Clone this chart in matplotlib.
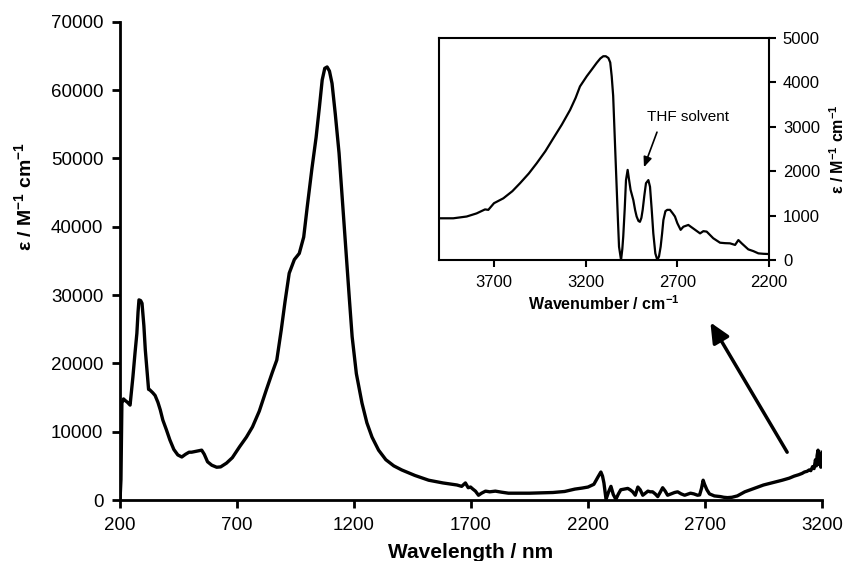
import matplotlib
matplotlib.use("Agg")
import matplotlib.pyplot as plt

plt.rcParams['font.family'] = ['Liberation Sans', 'DejaVu Sans']
plt.rcParams['mathtext.default'] = 'regular'

wl_uv = [200, 204, 208, 215, 221, 232, 243, 255, 264, 272,
         277, 281, 288, 294, 302, 308, 315, 322, 328, 340,
         350, 362, 372, 383, 398, 413, 430, 447, 464, 480,
         495, 506, 520, 535, 549, 560, 574, 592, 613, 630,
         655, 680]
eps_uv = [0, 3000, 14200, 14800, 14600, 14300, 13900, 18000, 21500, 24400,
          27500, 29300, 29200, 28800, 25500, 22000, 19000, 16200, 16100, 15700,
          15300, 14300, 13200, 11700, 10300, 8800, 7400, 6600, 6300, 6700,
          7000, 7000, 7100, 7200, 7300, 6700, 5600, 5100, 4800, 4850,
          5400, 6200]

wl_vis = [711, 740, 766, 795, 825, 851, 870, 889, 905, 923,
          945, 966, 985, 1000, 1020, 1038, 1052, 1064, 1075, 1085,
          1095, 1106, 1120, 1136, 1150, 1166, 1180, 1192, 1210, 1234,
          1255, 1277, 1305, 1336, 1370, 1404, 1460, 1519, 1580, 1640]
eps_vis = [7800, 9200, 10700, 13000, 16100, 18700, 20500, 24900, 29000, 33200,
           35200, 36100, 38500, 42900, 48500, 53100, 57500, 61500, 63200, 63400,
           62800, 61000, 56500, 50800, 44000, 36200, 29500, 23900, 18500, 14200,
           11300, 9200, 7300, 5900, 5000, 4400, 3600, 2900, 2500, 2200]

wl_nir = [1660, 1676, 1688, 1698, 1708, 1719, 1732, 1745, 1762, 1780,
          1804, 1830, 1860, 1900, 1950, 2000, 2050, 2100, 2144, 2175,
          2200, 2225, 2243, 2255, 2262, 2268, 2277, 2288, 2298, 2308,
          2319, 2330, 2340, 2355, 2370, 2380, 2391, 2402, 2413, 2423,
          2434, 2445, 2456, 2466, 2476, 2487, 2498, 2508, 2519, 2530,
          2540, 2555, 2570, 2583, 2598, 2613, 2625, 2638, 2652, 2668,
          2677, 2685, 2692, 2698, 2708, 2719, 2740, 2766, 2780, 2796,
          2815, 2838, 2870, 2910, 2950, 2995, 3030, 3060, 3081, 3100,
          3115, 3125, 3136, 3145, 3152, 3160, 3166, 3172, 3176, 3179,
          3183, 3187, 3191, 3195, 3200]
eps_nir = [2000, 2500, 1800, 1900, 1600, 1300, 700, 1000, 1300, 1200,
           1300, 1150, 1000, 1000, 1000, 1050, 1100, 1250, 1600, 1750,
           1900, 2300, 3400, 4100, 3500, 2500, 100, 1200, 2000, 800,
           100, 900, 1500, 1600, 1700, 1500, 1200, 700, 1900, 1500,
           700, 1000, 1300, 1200, 1200, 900, 500, 1100, 1800, 1300,
           700, 900, 1100, 1200, 900, 700, 850, 1000, 900, 700,
           750, 1700, 2900, 2300, 1500, 900, 600, 500, 400, 350,
           400, 600, 1200, 1700, 2200, 2600, 2900, 3200, 3500, 3700,
           3900, 4100, 4200, 4400, 4300, 4900, 4600, 5900, 5000, 6500,
           7300, 5200, 6800, 4800, 7000]

# inset: wavenumber (cm-1) vs epsilon
wn = [4000, 3922, 3849, 3795, 3749, 3731, 3700, 3649, 3600, 3558,
      3510, 3467, 3420, 3376, 3330, 3285, 3255, 3231, 3194, 3165,
      3140, 3120, 3104, 3090, 3076, 3066, 3058, 3050, 3045, 3038,
      3031, 3024, 3018, 3007, 3000, 2995, 2987, 2980, 2971, 2963,
      2955, 2940, 2930, 2922, 2912, 2904, 2896, 2889, 2880, 2871,
      2858, 2849, 2840, 2831, 2820, 2809, 2800, 2791, 2783, 2776,
      2765, 2755, 2740, 2725, 2713, 2700, 2682, 2667, 2640, 2613,
      2576, 2558, 2540, 2504, 2467, 2440, 2413, 2385, 2367, 2349,
      2313, 2285, 2258, 2230, 2200]
eps_ir = [940, 940, 980, 1050, 1140, 1130, 1280, 1390, 1550, 1730,
          1950, 2180, 2450, 2745, 3050, 3380, 3650, 3910, 4140, 4300,
          4440, 4540, 4590, 4590, 4550, 4450, 4140, 3700, 3160, 2400,
          1650, 900, 300, 0, 250, 530, 1150, 1800, 2030, 1800,
          1580, 1350, 1120, 980, 880, 860, 950, 1130, 1450, 1730,
          1800, 1650, 1150, 600, 150, 0, 80, 300, 600, 900,
          1100, 1130, 1130, 1050, 980, 830, 680, 750, 790, 710,
          600, 650, 640, 490, 390, 380, 376, 340, 450, 376,
          240, 200, 150, 140, 135]

wl = wl_uv + wl_vis + wl_nir
eps = eps_uv + eps_vis + eps_nir

fig = plt.figure(figsize=(8.47, 5.61), dpi=100)
ax = fig.add_axes([0.1417, 0.1087, 0.8288, 0.8523])
ax.plot(wl, eps, color='black', linewidth=2.4, solid_joinstyle='round')
ax.set_xlim(200, 3200)
ax.set_ylim(0, 70000)
ax.set_xticks([200, 700, 1200, 1700, 2200, 2700, 3200])
ax.set_yticks(range(0, 70001, 10000))
ax.spines['top'].set_visible(False)
ax.spines['right'].set_visible(False)
for s in ['left', 'bottom']:
    ax.spines[s].set_linewidth(2)
ax.tick_params(direction='out', length=6, width=2, labelsize=13.5, pad=6)
ax.set_xlabel('Wavelength / nm', fontsize=15, fontweight='bold', labelpad=7)
ax.set_ylabel('ε / M$^{-1}$ cm$^{-1}$', fontsize=14, fontweight='bold')
ax.yaxis.set_label_coords(-0.121, 0.634)

# arrow pointing to the inset
ax.annotate('', xy=(2723, 26000), xytext=(3051, 7000), annotation_clip=False,
            arrowprops=dict(arrowstyle='-|>,head_length=1.2,head_width=0.55',
                            color='black', lw=2.5, shrinkA=0, shrinkB=0))

ins = fig.add_axes([0.5183, 0.5365, 0.3896, 0.3957])
ins.plot(wn, eps_ir, color='black', linewidth=1.6)
ins.set_xlim(4000, 2200)
ins.set_ylim(0, 5000)
ins.set_xticks([3700, 3200, 2700, 2200])
ins.set_yticks(range(0, 5001, 1000))
ins.yaxis.tick_right()
ins.yaxis.set_label_position('right')
for s in ins.spines.values():
    s.set_linewidth(1.5)
ins.tick_params(direction='out', length=5, width=1.5, labelsize=12, pad=6)
ins.tick_params(axis='y', left=False, pad=5)
ins.set_xlabel('Wavenumber / cm$^{-1}$', fontsize=11.5, fontweight='bold', labelpad=3)
ins.set_ylabel('ε / M$^{-1}$ cm$^{-1}$', fontsize=11.5, fontweight='bold', labelpad=6)
ins.text(2642, 3220, 'THF solvent', ha='center', va='center', fontsize=11)
ins.annotate('', xy=(2882, 2090), xytext=(2811, 2880),
             arrowprops=dict(arrowstyle='-|>,head_length=0.6,head_width=0.25',
                             color='black', lw=1.2, shrinkA=0, shrinkB=0))

fig.savefig('out.png', dpi=100)
